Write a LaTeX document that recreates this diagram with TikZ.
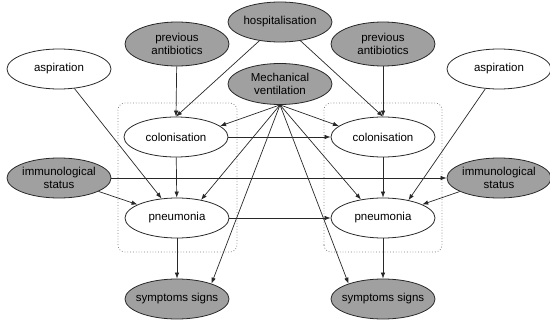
\documentclass[tikz,border=0pt]{standalone}
\usepackage{fontspec}
\setmainfont{Liberation Sans}
\usetikzlibrary{shapes.geometric,arrows.meta}

\definecolor{obsgray}{RGB}{160,160,160}
\definecolor{linegray}{RGB}{40,40,40}

\begin{document}
\begin{tikzpicture}[x=1pt, y=1pt,
		var/.style={ellipse, draw=linegray, line width=0.8pt, fill=white, minimum width=104pt, minimum height=40pt, inner sep=0pt, align=center, font=\fontsize{11.5}{13.5}\selectfont},
		obs/.style={var, fill=obsgray},
		arr/.style={-{Latex[length=6pt,width=4.5pt]}, draw=linegray, line width=0.7pt},
		plate/.style={draw=gray, dotted, line width=0.8pt, rounded corners=7pt}]
		\useasboundingbox (0, 0) rectangle (550, 322);

		\draw[plate] (118, 70) rectangle (237, 219);
		\draw[plate] (324, 70) rectangle (442, 219);

		\node[obs] (hosp) at (280, 300) {hospitalisation};
		\node[obs, minimum height=44pt] (abL) at (177, 278) {previous\\antibiotics};
		\node[obs, minimum height=44pt] (abR) at (383, 278) {previous\\antibiotics};
		\node[var] (aspL) at (59, 253) {aspiration};
		\node[var] (aspR) at (499, 253) {aspiration};
		\node[obs, minimum height=41pt] (mv) at (280, 238) {Mechanical\\ventilation};
		\node[var] (colL) at (176, 185) {colonisation};
		\node[var] (colR) at (383, 185) {colonisation};
		\node[obs] (immL) at (59, 144) {immunological\\status};
		\node[obs] (immR) at (499, 144) {immunological\\status};
		\node[var] (pneuL) at (177, 104) {pneumonia};
		\node[var] (pneuR) at (383, 104) {pneumonia};
		\node[obs, inner xsep=-5pt] (symL) at (177, 23) {symptoms signs};
		\node[obs, inner xsep=-5pt] (symR) at (383, 23) {symptoms signs};

		\draw[arr] (abL) -- (colL.north);
		\draw[arr] (hosp) -- (colL.north);
		\draw[arr] (abR) -- (colR.north);
		\draw[arr] (hosp) -- (colR.north);

		% ventilation acts on both time slices
		\draw[arr] (mv.south) -- (colL.14);
		\draw[arr] (mv.south) -- (colR.166);
		\draw[arr] (mv.south) -- (pneuL.37);
		\draw[arr] (mv.south) -- (pneuR.140);
		\draw[arr] (mv.south) -- (symL.24);
		\draw[arr] (mv.south) -- (symR.156);

		\draw[arr] (colL) -- (colR);
		\draw[arr] (pneuL) -- (pneuR);
		\draw[arr] (immL) -- (immR);
		\draw[arr] (colL) -- (pneuL);
		\draw[arr] (colR) -- (pneuR);
		\draw[arr] (aspL) -- (pneuL);
		\draw[arr] (aspR) -- (pneuR.35);
		\draw[arr] (immL) -- (pneuL);
		\draw[arr] (immR) -- (pneuR);
		\draw[arr] (pneuL) -- (symL);
		\draw[arr] (pneuR) -- (symR);

	\end{tikzpicture}
\end{document}
